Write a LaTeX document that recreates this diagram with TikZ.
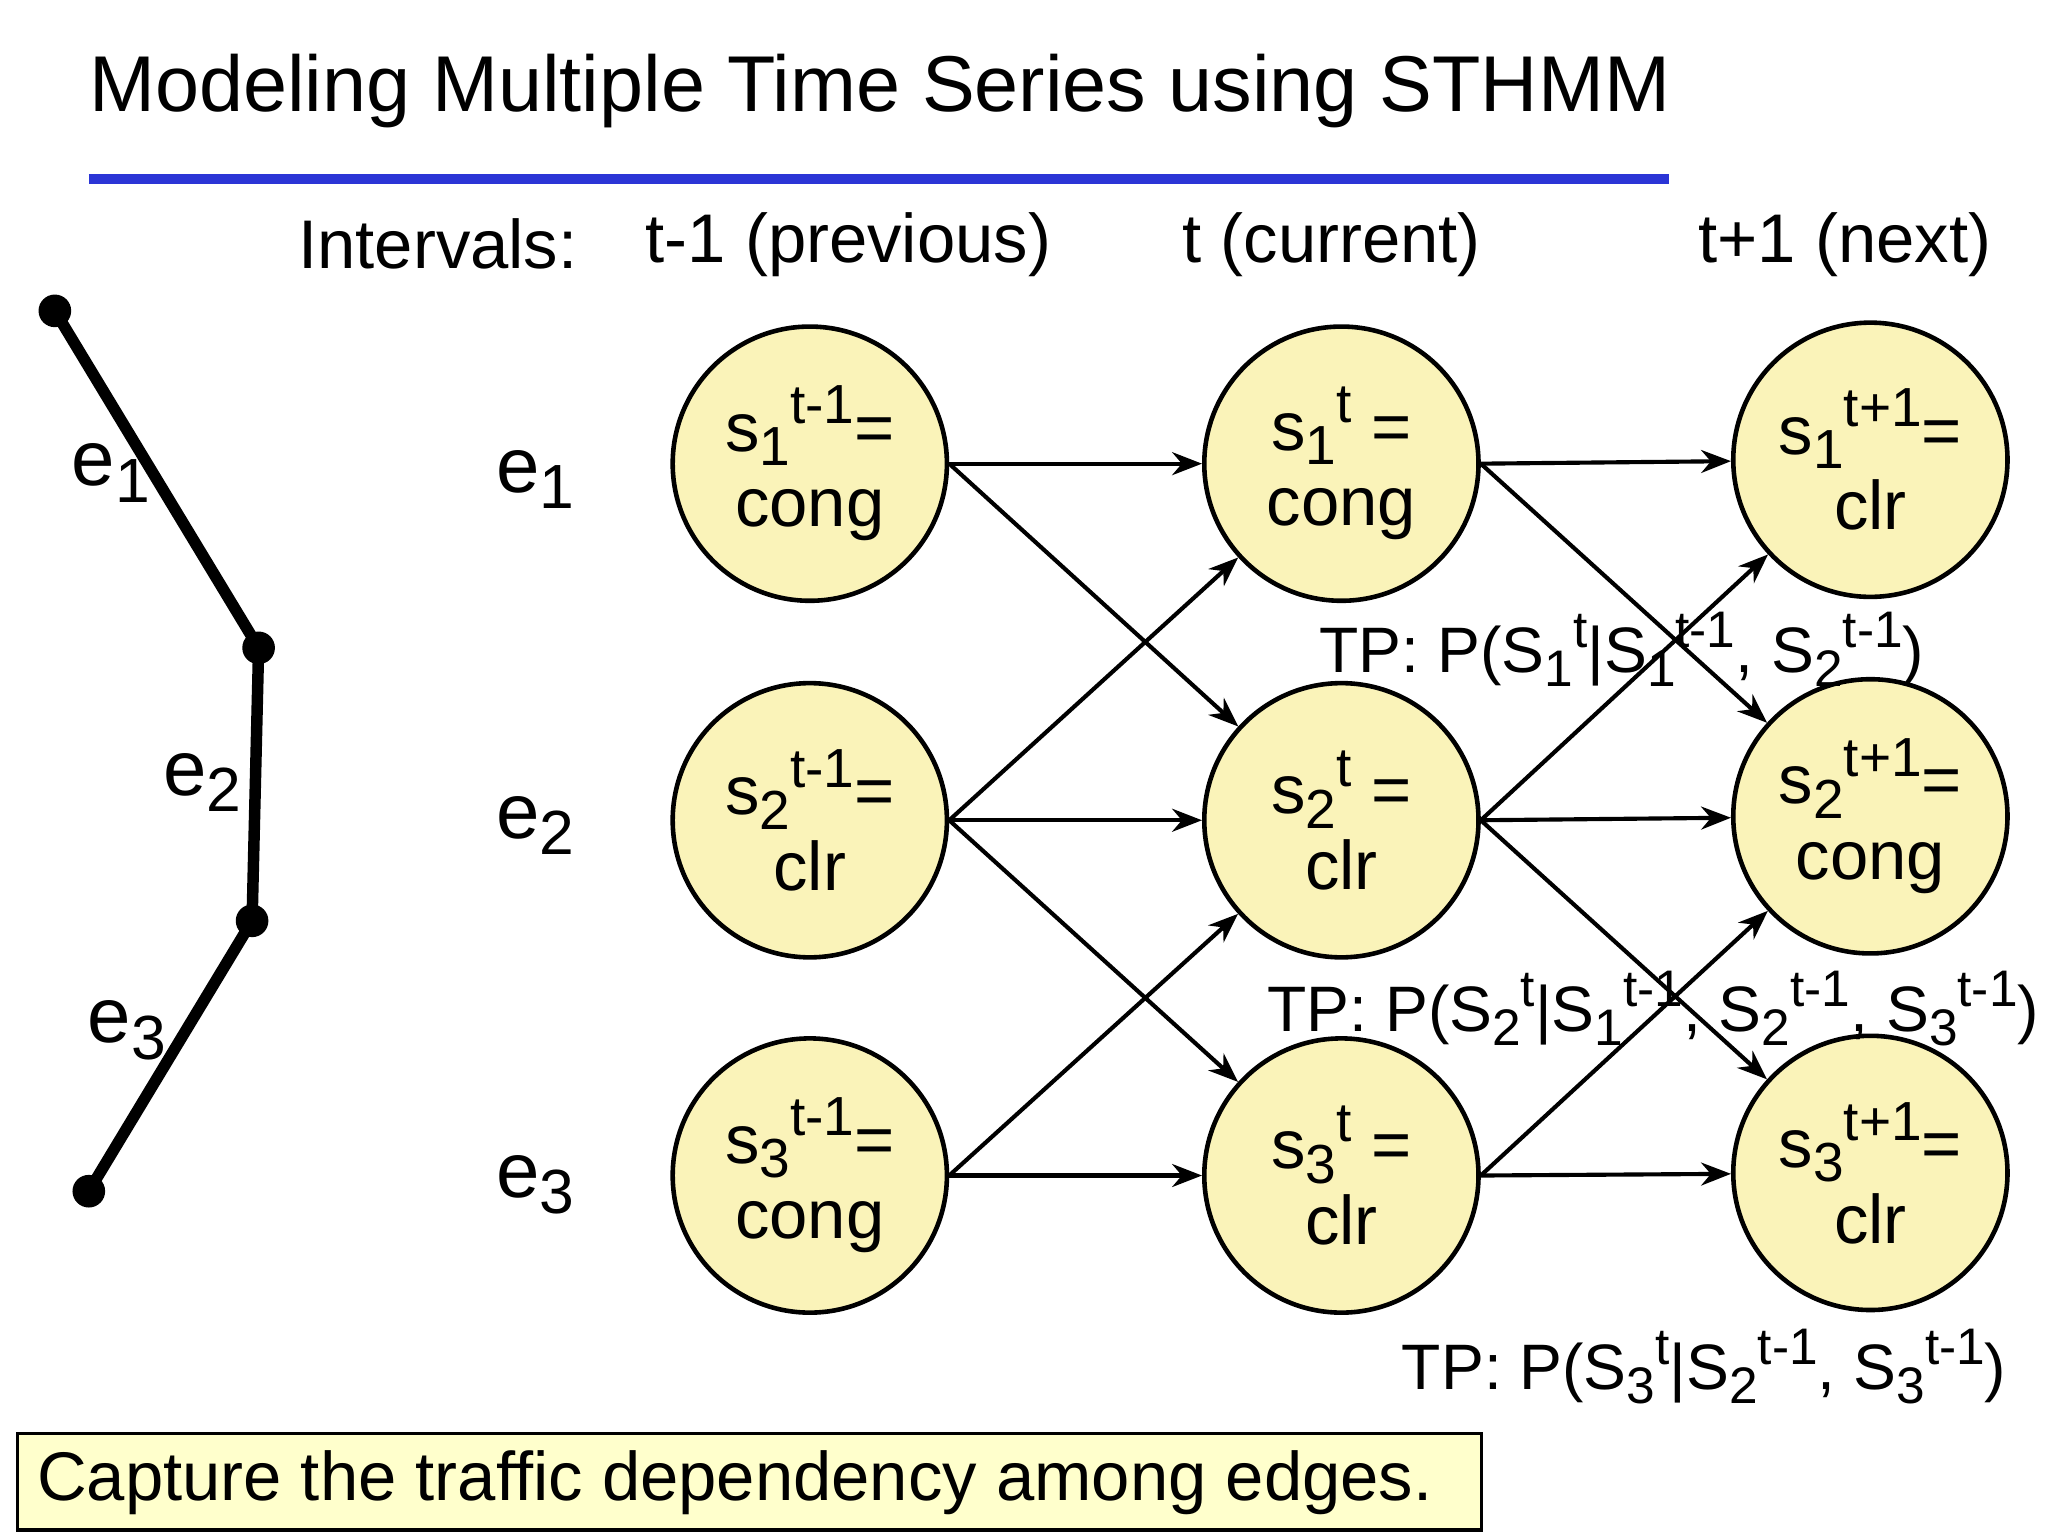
\documentclass[tikz,border=0pt]{standalone}
\usepackage{fontspec}
\setmainfont{Liberation Sans}
\usetikzlibrary{arrows.meta}
\definecolor{nodefill}{HTML}{FAF3B9}
\definecolor{boxfill}{HTML}{FFFFCC}
\definecolor{rule}{HTML}{2B35D6}
\newcommand{\subsup}[2]{\raisebox{-0.4ex}{\scalebox{0.8}{#1}}\raisebox{0.75ex}{\scalebox{0.8}{#2}}}
\newcommand{\sv}[2]{s\subsup{#1}{#2}}
\newcommand{\Sv}[2]{S\subsup{#1}{#2}}
\newcommand{\ev}[1]{e\raisebox{-0.4ex}{\scalebox{0.8}{#1}}}
\begin{document}
\begin{tikzpicture}[x=0.02cm,y=-0.02cm,
  st/.style={circle,draw,line width=2pt,fill=nodefill,minimum size=4.2cm,inner sep=0pt,align=center,font=\fontsize{30}{33}\selectfont},
  arr/.style={-{Stealth[length=13pt,width=10pt]},line width=1.8pt},
  lbl/.style={font=\fontsize{30}{34}\selectfont,inner sep=0pt},
  elbl/.style={font=\fontsize{34}{38}\selectfont,inner sep=0pt},
  tplbl/.style={font=\fontsize{28}{32}\selectfont,inner sep=0pt,anchor=west},
  dot/.style={circle,fill=black,minimum size=0.5cm,inner sep=0pt}]
\useasboundingbox (0,0) rectangle (1568,1176);
\node[anchor=west,font=\fontsize{34.5}{40}\selectfont,inner sep=0pt] (title) at (68,70) {Modeling Multiple Time Series using STHMM};
\draw[rule,line width=4pt] (68,137) -- (1278,137);
\node[lbl,anchor=west] (iv) at (228,187) {Intervals:};
\node[lbl,anchor=west] (h1) at (494,187) {t-1 (previous)};
\node[lbl,anchor=west] (h2) at (905,187) {t (current)};
\node[lbl,anchor=west] (h3) at (1300,187) {t+1 (next)};
% left road graph
\node[dot] (p1) at (42,238) {};
\node[dot] (p2) at (198,496) {};
\node[dot] (p3) at (193,705) {};
\node[dot] (p4) at (68,912) {};
\draw[line width=5pt] (p1.center) -- (p2.center) -- (p3.center) -- (p4.center);
\node[elbl] (l1) at (85,362) {\ev{1}};
\node[elbl] (l2) at (155,599) {\ev{2}};
\node[elbl] (l3) at (97,789) {\ev{3}};
\node[elbl] (r1) at (410,367) {\ev{1}};
\node[elbl] (r2) at (410,632) {\ev{2}};
\node[elbl] (r3) at (410,907) {\ev{3}};
% states
\node[st] (a1) at (620,355) {\sv{1}{t-1}=\\cong};
\node[st] (a2) at (620,628) {\sv{2}{t-1}=\\clr};
\node[st] (a3) at (620,900) {\sv{3}{t-1}=\\cong};
\node[st] (b1) at (1027,355) {\sv{1}{t} =\\cong};
\node[st] (b2) at (1027,628) {\sv{2}{t} =\\clr};
\node[st] (b3) at (1027,900) {\sv{3}{t} =\\clr};
\node[st] (c1) at (1432,352) {\sv{1}{t+1}=\\clr};
\node[st] (c2) at (1432,625) {\sv{2}{t+1}=\\cong};
\node[st] (c3) at (1432,898) {\sv{3}{t+1}=\\clr};
\foreach \u/\v in {a/b,b/c}{
  \draw[arr] (\u1.east) -- (\v1);
  \draw[arr] (\u1.east) -- (\v2);
  \draw[arr] (\u2.east) -- (\v1);
  \draw[arr] (\u2.east) -- (\v2);
  \draw[arr] (\u2.east) -- (\v3);
  \draw[arr] (\u3.east) -- (\v2);
  \draw[arr] (\u3.east) -- (\v3);
}
\node[tplbl] (tp1) at (1010,497) {TP: P(\Sv{1}{t}|\Sv{1}{t-1}, \Sv{2}{t-1})};
\node[tplbl] (tp2) at (970,772) {TP: P(\Sv{2}{t}|\Sv{1}{t-1}, \Sv{2}{t-1}, \Sv{3}{t-1})};
\node[tplbl] (tp3) at (1073,1046) {TP: P(\Sv{3}{t}|\Sv{2}{t-1}, \Sv{3}{t-1})};
\node[draw,line width=1.5pt,fill=boxfill,minimum width=1121*0.02cm,minimum height=74*0.02cm,anchor=north west,inner sep=0pt] (box) at (12,1096) {};
\node[lbl,anchor=west] (cap) at (28,1135) {Capture the traffic dependency among edges.};
\end{tikzpicture}
\end{document}
